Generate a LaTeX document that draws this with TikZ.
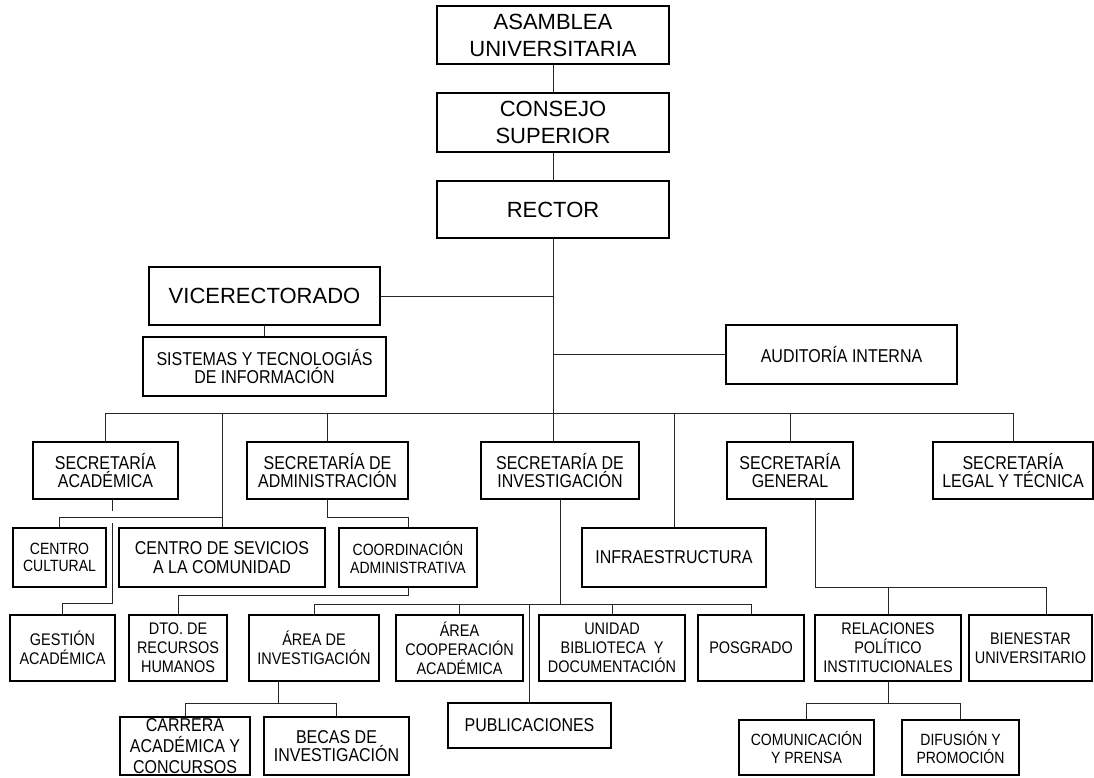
\documentclass[tikz,border=0pt]{standalone}
\usepackage{fontspec}
\setmainfont{Liberation Sans}
\newfontfamily\tallsans[FakeStretch=0.86]{Liberation Sans}
\usetikzlibrary{calc}
\newcommand\fszA{\fontsize{22}{27}\selectfont}
\newcommand\fszB{\tallsans\fontsize{18.6}{18.5}\selectfont}
\newcommand\fszBB{\tallsans\fontsize{18.6}{21}\selectfont}
\newcommand\fszC{\tallsans\fontsize{16.3}{17.5}\selectfont}
\newcommand\fszD{\tallsans\fontsize{16.8}{19}\selectfont}
\begin{document}
\begin{tikzpicture}[x=1pt,y=-1pt,
  box/.style={draw=black, line width=1.4pt, inner sep=0pt, align=center, fill=white},
  conn/.style={line width=0.8pt, draw=black!85}]
\useasboundingbox[fill=white] (0,0) rectangle (1094,778);

% top chain
\node[box, minimum width=232pt, minimum height=58pt, font=\fszA] (asamblea) at (553,35) {ASAMBLEA\\UNIVERSITARIA};
\node[box, minimum width=232pt, minimum height=59pt, font=\fszA] (consejo) at (553,122.5) {CONSEJO\\SUPERIOR};
\node[box, minimum width=232pt, minimum height=57pt, font=\fszA] (rector) at (553,209.5) {RECTOR};

% second level
\node[box, minimum width=231pt, minimum height=58pt, font=\fszA] (vice) at (264.5,296) {VICERECTORADO};
\node[box, minimum width=243pt, minimum height=59pt, font=\fszB] (sistemas) at (264.5,366.5) {SISTEMAS Y TECNOLOGIÁS\\DE INFORMACIÓN};
\node[box, minimum width=231pt, minimum height=59pt, font=\fszB] (auditoria) at (841.5,354.5) {AUDITORÍA INTERNA};

% secretarias
\node[box, minimum width=145pt, minimum height=57pt, font=\fszB] (secacad) at (105.5,470.5) {SECRETARÍA\\ACADÉMICA};
\node[box, minimum width=161pt, minimum height=57pt, font=\fszB] (secadm) at (327.5,470.5) {SECRETARÍA DE\\ADMINISTRACIÓN};
\node[box, minimum width=158pt, minimum height=57pt, font=\fszB] (secinv) at (560,470.5) {SECRETARÍA DE\\INVESTIGACIÓN};
\node[box, minimum width=126pt, minimum height=57pt, font=\fszB] (secgen) at (790,470.5) {SECRETARÍA\\GENERAL};
\node[box, minimum width=160pt, minimum height=57pt, font=\fszB] (seclegal) at (1013,470.5) {SECRETARÍA\\LEGAL Y TÉCNICA};

% row 4
\node[box, minimum width=93pt, minimum height=59pt, font=\fszC] (ccultural) at (59.5,557.5) {CENTRO\\CULTURAL};
\node[box, minimum width=206pt, minimum height=59pt, font=\fszB] (cservicios) at (222,557.5) {CENTRO DE SEVICIOS\\A LA COMUNIDAD};
\node[box, minimum width=138pt, minimum height=59pt, font=\fszC] (coord) at (408,557.5) {COORDINACIÓN\\ADMINISTRATIVA};
\node[box, minimum width=184pt, minimum height=59pt, font=\fszB] (infra) at (674,557.5) {INFRAESTRUCTURA};

% row 5
\node[box, minimum width=105pt, minimum height=66pt, font=\fszD] (gestion) at (62.5,648) {GESTIÓN\\ACADÉMICA};
\node[box, minimum width=98pt, minimum height=66pt, font=\fszD] (dto) at (178,648) {DTO. DE\\RECURSOS\\HUMANOS};
\node[box, minimum width=130pt, minimum height=66pt, font=\fszD] (areainv) at (314,648) {ÁREA DE\\INVESTIGACIÓN};
\node[box, minimum width=127pt, minimum height=66pt, font=\fszD] (areacoop) at (459.5,648) {ÁREA\\COOPERACIÓN\\ACADÉMICA};
\node[box, minimum width=146pt, minimum height=66pt, font=\fszD] (unidad) at (612,648) {UNIDAD\\BIBLIOTECA\ \ Y\\DOCUMENTACIÓN};
\node[box, minimum width=106pt, minimum height=66pt, font=\fszD] (posgrado) at (751,648) {POSGRADO};
\node[box, minimum width=146pt, minimum height=66pt, font=\fszD] (relaciones) at (888,648) {RELACIONES\\POLÍTICO\\INSTITUCIONALES};
\node[box, minimum width=123pt, minimum height=66pt, font=\fszD] (bienestar) at (1030.5,648) {BIENESTAR\\UNIVERSITARIO};

% row 6
\node[box, minimum width=130pt, minimum height=58pt, font=\fszBB] (carrera) at (185,746) {CARRERA\\ACADÉMICA Y\\CONCURSOS};
\node[box, minimum width=145pt, minimum height=58pt, font=\fszB] (becas) at (336.5,746) {BECAS DE\\INVESTIGACIÓN};
\node[box, minimum width=163pt, minimum height=45pt, font=\fszB] (publicaciones) at (529.5,725.5) {PUBLICACIONES};
\node[box, minimum width=135pt, minimum height=55pt, font=\fszC] (comunicacion) at (806.5,747.5) {COMUNICACIÓN\\Y PRENSA};
\node[box, minimum width=117pt, minimum height=55pt, font=\fszC] (difusion) at (960.5,747.5) {DIFUSIÓN Y\\PROMOCIÓN};

% helper levels
\coordinate (busA) at (0,413);
\coordinate (yA) at (0,517);
\coordinate (yB) at (0,595);
\coordinate (yC) at (0,604);
\coordinate (yD) at (0,587);
\coordinate (yE) at (0,703);

% top connectors
\draw[conn] (asamblea) -- (consejo);
\draw[conn] (consejo) -- (rector);
\draw[conn] (rector.south) -- (rector.south |- secinv.north);
\draw[conn] (vice.east) -- (vice.east -| rector.south);
\draw[conn] (vice.south) -- (sistemas.north);
\draw[conn] (auditoria.west) -- (auditoria.west -| rector.south);

% main bus
\draw[conn] (secacad.north |- busA) -- (seclegal.north |- busA);
\foreach \n in {secacad,secadm,secgen,seclegal,infra,cservicios}
  \draw[conn] (\n.north |- busA) -- (\n.north);

% secretaria academica
\coordinate (sastub) at ($(secacad.south)+(6.5,0)$);
\draw[conn] (sastub) -- ++(0,11);
\draw[conn] (ccultural.north) |- (cservicios.north |- yA);
\coordinate (gA) at (112,523);
\coordinate (gB) at (112,603);
\draw[conn] (gA) -- (gB) -| (gestion.north);

% secretaria de administracion
\draw[conn] (secadm.south) -- (secadm.south |- yA) -| (coord.north);
\draw[conn] (coord.south) -- (coord.south |- yB) -| (dto.north);

% secretaria de investigacion
\draw[conn] (secinv.south) -- (secinv.south |- yC);
\draw[conn] (areainv.north |- yC) -- (posgrado.north |- yC);
\foreach \n in {areainv,areacoop,unidad,posgrado,publicaciones}
  \draw[conn] (\n.north |- yC) -- (\n.north);

% area de investigacion
\coordinate (ai) at ($(areainv.south)+(-35.5,0)$);
\draw[conn] (ai) -- (ai |- yE);
\draw[conn] (carrera.north |- yE) -- (becas.north |- yE);
\draw[conn] (carrera.north |- yE) -- (carrera.north);
\draw[conn] (becas.north |- yE) -- (becas.north);

% secretaria general
\coordinate (sg) at ($(secgen.south)+(25,0)$);
\coordinate (bientop) at ($(bienestar.north)+(15.5,0)$);
\draw[conn] (sg) |- (bientop |- yD) -- (bientop);
\draw[conn] (relaciones.north |- yD) -- (relaciones.north);

% relaciones
\draw[conn] (relaciones.south) -- (relaciones.south |- yE);
\draw[conn] (comunicacion.north |- yE) -- (difusion.north |- yE);
\draw[conn] (comunicacion.north |- yE) -- (comunicacion.north);
\draw[conn] (difusion.north |- yE) -- (difusion.north);
\end{tikzpicture}
\end{document}
